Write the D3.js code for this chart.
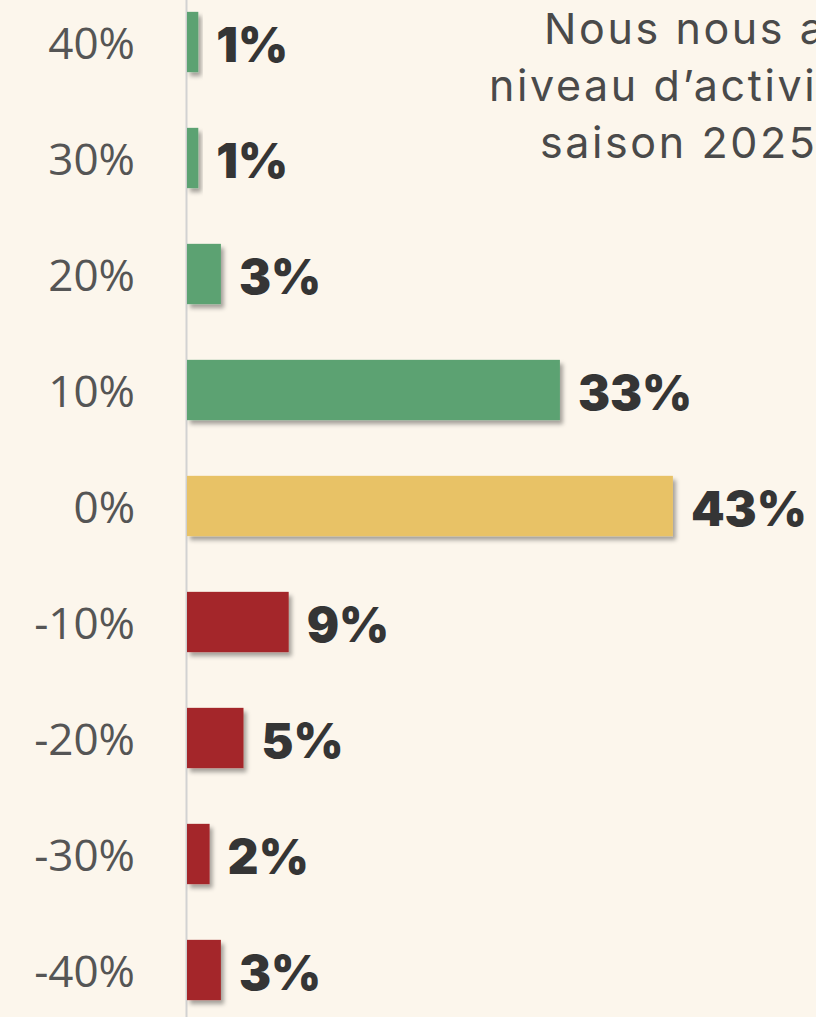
<!DOCTYPE html>
<html>
<head>
<meta charset="utf-8">
<script src="https://cdn.jsdelivr.net/npm/d3@7"></script>
<style>
  html, body { margin: 0; padding: 0; background: #fcf6ec; }
  svg { display: block; }
</style>
</head>
<body>
<svg id="chart" width="816" height="1017"></svg>
<script>
// Expected change in activity level (categories) and share of respondents (%)
const categories = ["40%", "30%", "20%", "10%", "0%", "-10%", "-20%", "-30%", "-40%"];
const shares = [1, 1, 3, 33, 43, 9, 5, 2, 3];
const groups = ["up", "up", "up", "up", "flat", "down", "down", "down", "down"];
const headingLines = ["Nous nous attendons à un", "niveau d’activité pour la", "saison 2025 :"];

const colors = { up: "#5ba272", flat: "#e8c266", down: "#a4282b" };

const svg = d3.select("#chart");
const W = 816, H = 1017;
const axisX = 187;

svg.append("rect").attr("width", W).attr("height", H).attr("fill", "#fcf6ec");

const defs = svg.append("defs");
const f = defs.append("filter").attr("id", "shadow")
  .attr("x", "-20%").attr("y", "-20%").attr("width", "160%").attr("height", "160%");
f.append("feDropShadow").attr("dx", 3).attr("dy", 4).attr("stdDeviation", 2.2)
  .attr("flood-color", "#000").attr("flood-opacity", 0.35);

const x = d3.scaleLinear().domain([0, 45]).range([axisX, axisX + 45 * 11.3]);
const y = d3.scaleBand().domain(categories).range([-16, 1028])
  .paddingInner(0.48).paddingOuter(0.24);

// Heading (top right, runs past the right edge)
const heading = svg.append("text")
  .attr("font-family", "Inter, 'Noto Sans', sans-serif")
  .attr("font-weight", 400)
  .attr("font-size", 43)
  .attr("letter-spacing", 2.6)
  .attr("fill", "#4a4a4a");
const headingX = [544, 489, 540];
heading.selectAll("tspan").data(headingLines).join("tspan")
  .attr("x", (d, i) => headingX[i])
  .attr("y", (d, i) => 44 + i * 57)
  .text(d => d);

// Category axis
const axis = svg.append("g")
  .attr("transform", `translate(${axisX - 1},0)`)
  .call(d3.axisLeft(y).tickSize(0).tickSizeOuter(0).tickPadding(51));
axis.select(".domain").attr("stroke", "#d2d2d2").attr("stroke-width", 2);
axis.selectAll(".tick text")
  .attr("font-family", "'Open Sans', sans-serif")
  .attr("font-size", 44)
  .attr("fill", "#555")
  .attr("dy", "0.38em");

const rows = categories.map((c, i) => ({ c, v: shares[i], g: groups[i] }));

// Bars
svg.append("g").selectAll("rect").data(rows).join("rect")
  .attr("x", x(0))
  .attr("y", d => y(d.c))
  .attr("width", d => x(d.v) - x(0))
  .attr("height", y.bandwidth())
  .attr("fill", d => colors[d.g])
  .attr("filter", "url(#shadow)");

// Value labels
svg.append("g").selectAll("text").data(rows).join("text")
  .attr("x", d => x(d.v) + 18)
  .attr("y", d => y(d.c) + y.bandwidth() / 2 + 20)
  .attr("font-family", "Inter, sans-serif")
  .attr("font-weight", 900)
  .attr("font-size", 48)
  .attr("fill", "#353535")
  .text(d => d.v + "%");
</script>
</body>
</html>
